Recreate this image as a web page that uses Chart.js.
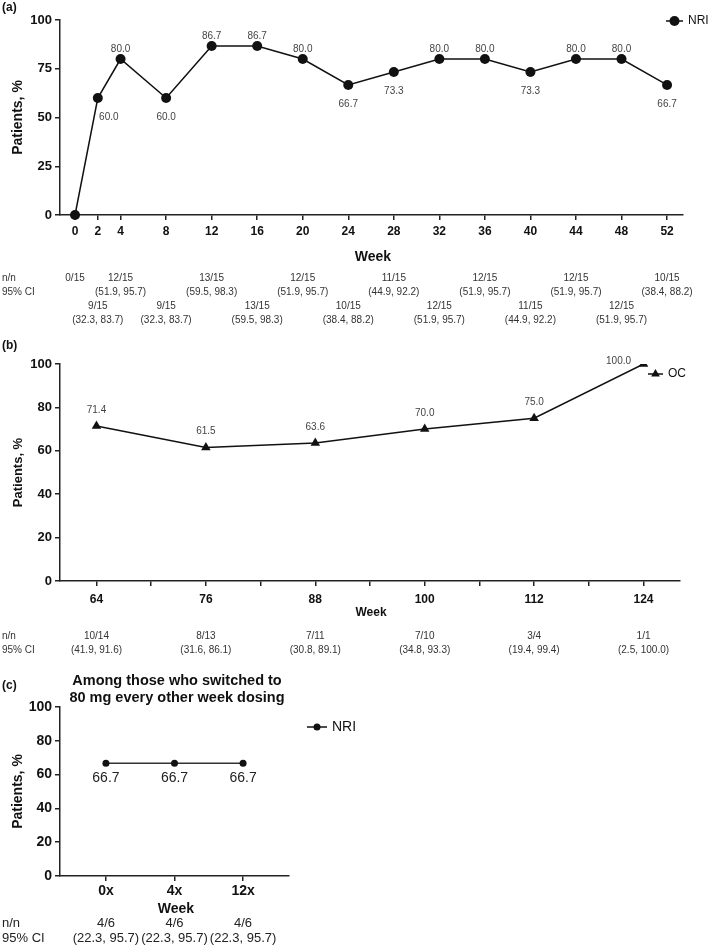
<!DOCTYPE html>
<html>
<head>
<meta charset="utf-8">
<script src="https://cdn.jsdelivr.net/npm/chart.js@4"></script>
<style>
    body { margin: 0; width: 709px; height: 946px; background: #fff; position: relative; overflow: hidden; }
    .panel { position: absolute; left: 0; width: 709px; }
</style>
</head>
<body>
<div class="panel" style="top:0;height:335px"><canvas id="chart_a"></canvas></div>
<div class="panel" style="top:335px;height:325px"><canvas id="chart_b"></canvas></div>
<div class="panel" style="top:660px;height:286px"><canvas id="chart_c"></canvas></div>
<script>
// (a) NRI, weeks 0-52
const weeksA = [0, 2, 4, 8, 12, 16, 20, 24, 28, 32, 36, 40, 44, 48, 52]
const nriA = [0, 60.0, 80.0, 60.0, 86.7, 86.7, 80.0, 66.7, 73.3, 80.0, 80.0, 73.3, 80.0, 80.0, 66.7]
const nnA = ['0/15', '9/15', '12/15', '9/15', '13/15', '13/15', '12/15', '10/15', '11/15', '12/15', '12/15', '11/15', '12/15', '12/15', '10/15']
const ciA = ['', '(32.3, 83.7)', '(51.9, 95.7)', '(32.3, 83.7)', '(59.5, 98.3)', '(59.5, 98.3)', '(51.9, 95.7)', '(38.4, 88.2)',
    '(44.9, 92.2)', '(51.9, 95.7)', '(51.9, 95.7)', '(44.9, 92.2)', '(51.9, 95.7)', '(51.9, 95.7)', '(38.4, 88.2)']
const yTicksA = [0, 25, 50, 75, 100]

// (b) OC, weeks 64-124
const weeksB = [64, 76, 88, 100, 112, 124]
const ocB = [71.4, 61.5, 63.6, 70.0, 75.0, 100.0]
const nnB = ['10/14', '8/13', '7/11', '7/10', '3/4', '1/1']
const ciB = ['(41.9, 91.6)', '(31.6, 86.1)', '(30.8, 89.1)', '(34.8, 93.3)', '(19.4, 99.4)', '(2.5, 100.0)']
const tickWeeksB = [64, 70, 76, 82, 88, 94, 100, 106, 112, 118, 124]
const yTicksB = [0, 20, 40, 60, 80, 100]

// (c) switched to 80 mg every other week
const visitsC = ['0x', '4x', '12x']
const nriC = [66.7, 66.7, 66.7]
const nnC = ['4/6', '4/6', '4/6']
const ciC = ['(22.3, 95.7)', '(22.3, 95.7)', '(22.3, 95.7)']
const yTicksC = [0, 20, 40, 60, 80, 100]

const FONT = "'Liberation Sans', Arial, Helvetica, sans-serif"
Chart.defaults.font.family = FONT
Chart.defaults.color = '#111'

function text(ctx, str, x, y, font, color, align) {
    ctx.save()
    ctx.font = `${font} ${FONT}`
    ctx.fillStyle = color || '#111'
    ctx.textAlign = align || 'center'
    ctx.textBaseline = 'middle'
    ctx.fillText(str, x, y)
    ctx.restore()
}

function vtext(ctx, str, x, y, font) {
    ctx.save()
    ctx.translate(x, y)
    ctx.rotate(-Math.PI / 2)
    text(ctx, str, 0, 0, font, '#111')
    ctx.restore()
}

function legendItem(ctx, style, x1, x2, y, r, label, font) {
    ctx.save()
    ctx.strokeStyle = '#111'
    ctx.fillStyle = '#111'
    ctx.lineWidth = 1.5
    ctx.beginPath()
    ctx.moveTo(x1, y)
    ctx.lineTo(x2, y)
    ctx.stroke()
    const cx = (x1 + x2) / 2
    ctx.beginPath()
    if (style == 'triangle') {
        ctx.moveTo(cx, y - r)
        ctx.lineTo(cx + r * 0.866, y + r * 0.5)
        ctx.lineTo(cx - r * 0.866, y + r * 0.5)
        ctx.closePath()
    } else {
        ctx.arc(cx, y, r, 0, Math.PI * 2)
    }
    ctx.fill()
    ctx.restore()
    text(ctx, label, x2 + 5, y, font, '#111', 'left')
}

// box = chart area inside the canvas
function baseOptions(box, yTicks, yFont) {
    return {
        responsive: true,
        maintainAspectRatio: false,
        animation: false,
        layout: { padding: { left: 0, top: box.top, right: 709 - box.right, bottom: 0 } },
        plugins: { legend: { display: false }, tooltip: { enabled: false } },
        scales: {
            y: {
                min: 0,
                max: 100,
                afterBuildTicks: (s) => { s.ticks = yTicks.map(v => ({ value: v })) },
                afterFit: (s) => { s.width = box.left },
                ticks: { font: { size: yFont, weight: 'bold' }, color: '#111', padding: 3 },
                border: { display: true, color: '#222', width: 1.5 },
                grid: { drawOnChartArea: false, tickLength: 5, color: '#222', lineWidth: 1.5 }
            }
        }
    }
}

// ---------- (a)
const boxA = { left: 60, right: 683, top: 20, bottom: 215, h: 335 }
const optsA = baseOptions(boxA, yTicksA, 13)
optsA.scales.x = {
    type: 'linear',
    min: -1.32,
    max: 53.4,
    afterBuildTicks: (s) => { s.ticks = weeksA.map(v => ({ value: v })) },
    afterFit: (s) => { s.height = boxA.h - boxA.bottom },
    ticks: { font: { size: 12, weight: 'bold' }, color: '#111', padding: 4, autoSkip: false, maxRotation: 0 },
    border: { display: true, color: '#222', width: 1.5 },
    grid: { drawOnChartArea: false, tickLength: 5, color: '#222', lineWidth: 1.5 }
}

const labelsA = {
    id: 'labelsA',
    afterDatasetsDraw(chart) {
        const ctx = chart.ctx
        const pts = chart.getDatasetMeta(0).data
        const x = chart.scales.x
        nriA.forEach((v, i) => {
            if (i == 0) return
            const below = v < 75
            const dx = i == 1 ? 11 : 0
            text(ctx, v.toFixed(1), pts[i].x + dx, below ? pts[i].y + 19 : pts[i].y - 10, '10px', '#444')
        })
        text(ctx, '(a)', 2, 8, 'bold 12px', '#111', 'left')
        vtext(ctx, 'Patients, %', 18, (chart.chartArea.top + chart.chartArea.bottom) / 2, 'bold 14px')
        text(ctx, 'Week', 373, 257, 'bold 14px')
        text(ctx, 'n/n', 2, 278, '10px', '#333', 'left')
        text(ctx, '95% CI', 2, 292, '10px', '#333', 'left')
        weeksA.forEach((w, i) => {
            const px = x.getPixelForValue(w)
            const y0 = i % 2 == 0 ? 278 : 306
            text(ctx, nnA[i], px, y0, '10px', '#333')
            if (ciA[i]) text(ctx, ciA[i], px, y0 + 14, '10px', '#333')
        })
        legendItem(ctx, 'circle', 666, 683, 21, 5, 'NRI', '12px')
    }
}

new Chart(document.getElementById('chart_a').getContext('2d'), {
    type: 'line',
    data: {
        datasets: [{
            label: 'NRI',
            data: weeksA.map((w, i) => ({ x: w, y: nriA[i] })),
            borderColor: '#111',
            borderWidth: 1.5,
            pointRadius: 5,
            pointBackgroundColor: '#111',
            pointBorderWidth: 0,
            clip: false
        }]
    },
    options: optsA,
    plugins: [labelsA]
})

// ---------- (b)
const boxB = { left: 60, right: 680, top: 29, bottom: 246, h: 325 }
const optsB = baseOptions(boxB, yTicksB, 13)
optsB.scales.x = {
    type: 'linear',
    min: 60,
    max: 128,
    afterBuildTicks: (s) => { s.ticks = tickWeeksB.map(v => ({ value: v })) },
    afterFit: (s) => { s.height = boxB.h - boxB.bottom },
    ticks: {
        font: { size: 12, weight: 'bold' }, color: '#111', padding: 6, autoSkip: false, maxRotation: 0,
        callback: (v) => weeksB.includes(v) ? v : ''
    },
    border: { display: true, color: '#222', width: 1.5 },
    grid: { drawOnChartArea: false, tickLength: 5, color: '#222', lineWidth: 1.5 }
}

const labelsB = {
    id: 'labelsB',
    afterDatasetsDraw(chart) {
        const ctx = chart.ctx
        const pts = chart.getDatasetMeta(0).data
        const x = chart.scales.x
        ocB.forEach((v, i) => {
            if (v >= 100) text(ctx, v.toFixed(1), pts[i].x - 25, pts[i].y - 3, '10px', '#444')
            else text(ctx, v.toFixed(1), pts[i].x, pts[i].y - 16, '10px', '#444')
        })
        text(ctx, '(b)', 2, 11, 'bold 12px', '#111', 'left')
        vtext(ctx, 'Patients, %', 18, (chart.chartArea.top + chart.chartArea.bottom) / 2, 'bold 13px')
        text(ctx, 'Week', 371, 278, 'bold 12px')
        text(ctx, 'n/n', 2, 301, '10px', '#333', 'left')
        text(ctx, '95% CI', 2, 315, '10px', '#333', 'left')
        weeksB.forEach((w, i) => {
            const px = x.getPixelForValue(w)
            text(ctx, nnB[i], px, 301, '10px', '#333')
            text(ctx, ciB[i], px, 315, '10px', '#333')
        })
        legendItem(ctx, 'triangle', 648, 663, 39, 5, 'OC', '12px')
    }
}

new Chart(document.getElementById('chart_b').getContext('2d'), {
    type: 'line',
    data: {
        datasets: [{
            label: 'OC',
            data: weeksB.map((w, i) => ({ x: w, y: ocB[i] })),
            borderColor: '#111',
            borderWidth: 1.5,
            pointStyle: 'triangle',
            pointRadius: 5.5,
            pointBackgroundColor: '#111',
            pointBorderWidth: 0
        }]
    },
    options: optsB,
    plugins: [labelsB]
})

// ---------- (c)
const boxC = { left: 60, right: 289, top: 47, bottom: 216, h: 286 }
const optsC = baseOptions(boxC, yTicksC, 14)
optsC.scales.x = {
    type: 'linear',
    min: -0.67,
    max: 2.67,
    afterBuildTicks: (s) => { s.ticks = visitsC.map((v, i) => ({ value: i })) },
    afterFit: (s) => { s.height = boxC.h - boxC.bottom },
    ticks: {
        font: { size: 14, weight: 'bold' }, color: '#111', padding: 2, autoSkip: false, maxRotation: 0,
        callback: (v) => visitsC[v]
    },
    border: { display: true, color: '#222', width: 1.5 },
    grid: { drawOnChartArea: false, tickLength: 5, color: '#222', lineWidth: 1.5 }
}

const labelsC = {
    id: 'labelsC',
    afterDatasetsDraw(chart) {
        const ctx = chart.ctx
        const pts = chart.getDatasetMeta(0).data
        const x = chart.scales.x
        nriC.forEach((v, i) => {
            text(ctx, v.toFixed(1), pts[i].x, pts[i].y + 15, '14px', '#222')
        })
        text(ctx, '(c)', 2, 26, 'bold 12px', '#111', 'left')
        text(ctx, 'Among those who switched to', 177, 21, 'bold 14.5px')
        text(ctx, '80 mg every other week dosing', 177, 38, 'bold 14.5px')
        vtext(ctx, 'Patients, %', 18, (chart.chartArea.top + chart.chartArea.bottom) / 2, 'bold 14px')
        text(ctx, 'Week', 176, 249, 'bold 14px')
        text(ctx, 'n/n', 2, 263, '13px', '#222', 'left')
        text(ctx, '95% CI', 2, 278, '13px', '#222', 'left')
        visitsC.forEach((v, i) => {
            const px = x.getPixelForValue(i)
            text(ctx, nnC[i], px, 263, '13px', '#222')
            text(ctx, ciC[i], px, 278, '13px', '#222')
        })
        legendItem(ctx, 'circle', 307, 327, 67, 3.5, 'NRI', '14px')
    }
}

new Chart(document.getElementById('chart_c').getContext('2d'), {
    type: 'line',
    data: {
        datasets: [{
            label: 'NRI',
            data: nriC.map((v, i) => ({ x: i, y: v })),
            borderColor: '#333',
            borderWidth: 1.5,
            pointRadius: 3.5,
            pointBackgroundColor: '#111',
            pointBorderWidth: 0
        }]
    },
    options: optsC,
    plugins: [labelsC]
})
</script>
</body>
</html>
